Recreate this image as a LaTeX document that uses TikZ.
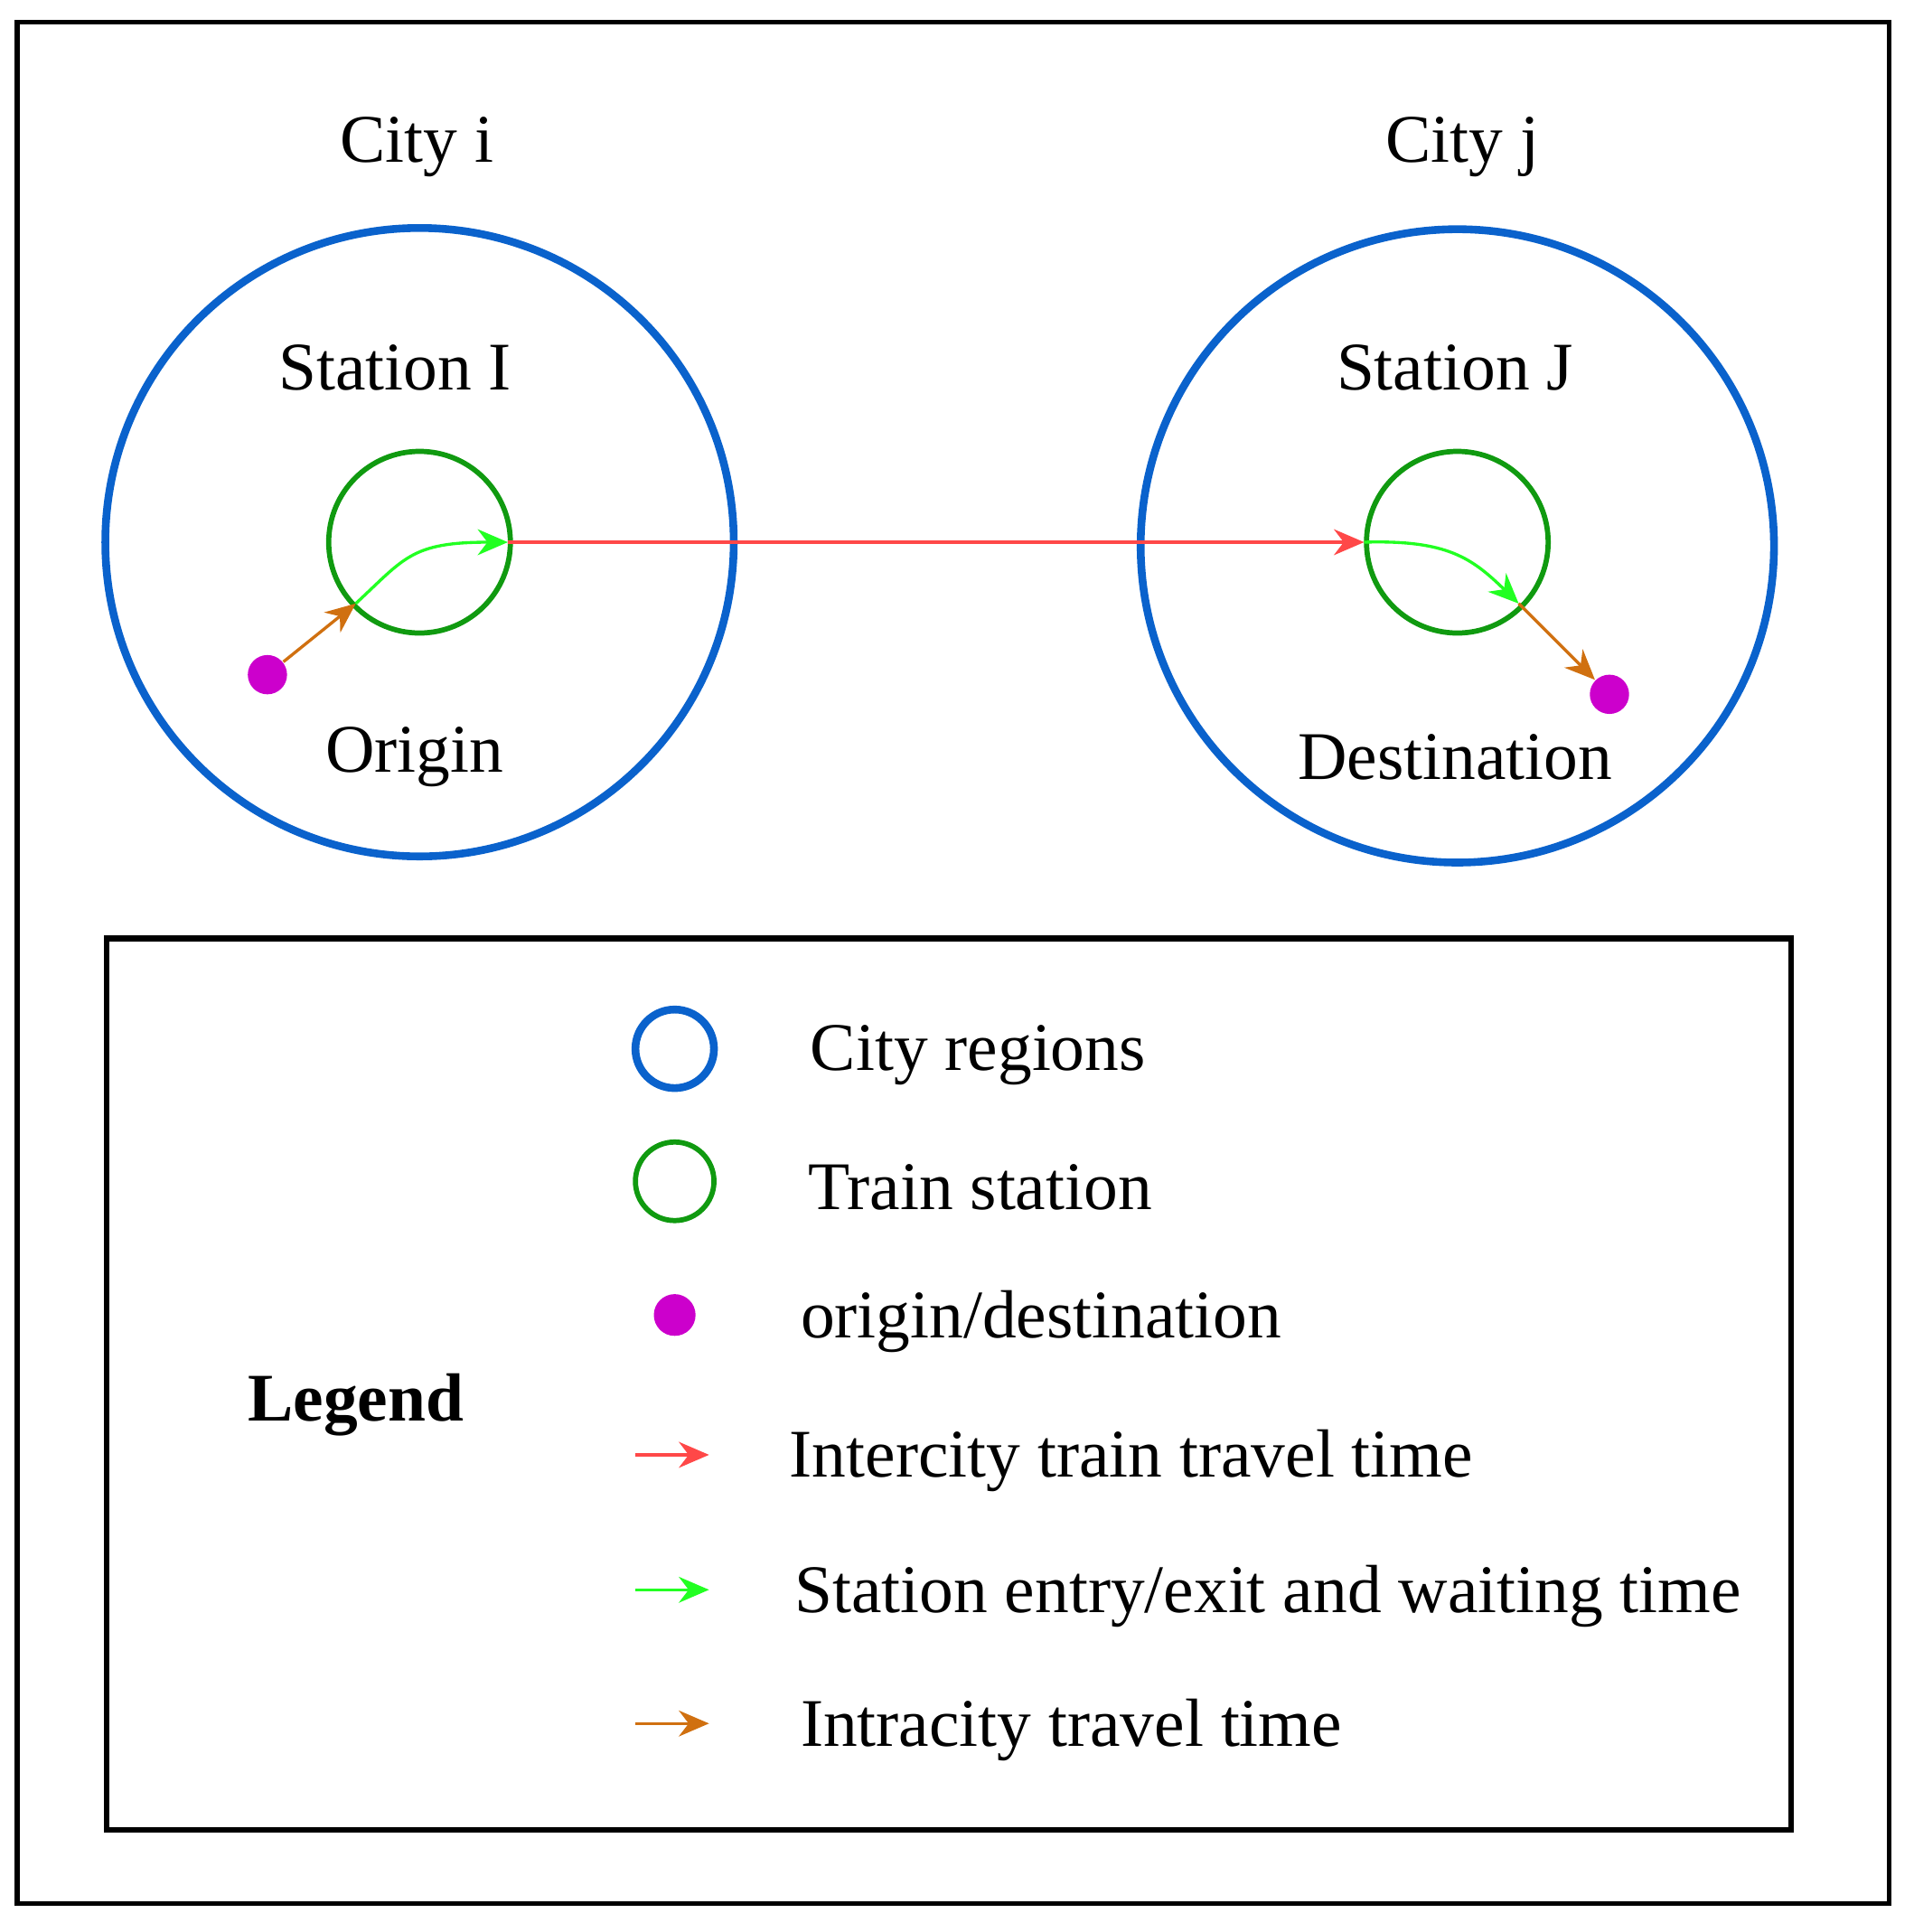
\documentclass[tikz,border=0pt]{standalone}
\usepackage{fontspec}
\setmainfont{Liberation Serif}
\usetikzlibrary{arrows.meta}
\definecolor{cblue}{HTML}{0A62CC}
\definecolor{cgreen}{HTML}{109A10}
\definecolor{lgreen}{HTML}{22FF22}
\definecolor{cred}{HTML}{FF4848}
\definecolor{corange}{HTML}{D07010}
\definecolor{cpurple}{HTML}{CC00CC}
\begin{document}
\begin{tikzpicture}[x=0.01cm,y=-0.01cm,
  lbl/.style={font=\fontsize{15.8}{19}\selectfont,inner sep=0pt},
  city/.style={draw=cblue,line width=1.8pt,circle,inner sep=0pt},
  stat/.style={draw=cgreen,line width=1.2pt,circle,inner sep=0pt},
  dot/.style={fill=cpurple,circle,inner sep=0pt,minimum size=0.32cm},
  arr/.style={line width=0.7pt,-{Stealth[length=7pt,width=6pt]}}]
\useasboundingbox (0,0) rectangle (1560,1575);
\draw[line width=1.1pt] (14,18) rectangle (1540,1552);
\node[city,minimum size=5.12cm] (ci) at (342,442) {};
\node[city,minimum size=5.16cm] (cj) at (1188,445) {};
\node[stat,minimum size=1.48cm] (si) at (342,442) {};
\node[stat,minimum size=1.48cm] (sj) at (1188,442) {};
\node[lbl] at (340,120) {City i};
\node[lbl] at (1192,120) {City j};
\node[lbl] at (322,300) {Station I};
\node[lbl] at (1186,300) {Station J};
\node[lbl] at (338,617) {Origin};
\node[lbl] at (1186,617) {Destination};
\node[dot] (o) at (218,550) {};
\node[dot] (d) at (1312,566) {};
\coordinate (a1) at (290,492);
\coordinate (a2) at (414,442);
\coordinate (b1) at (1112,442);
\coordinate (b2) at (1238,492);
\draw[arr,corange] (o) -- (a1);
\draw[arr,lgreen] (a1) .. controls (330,455) and (335,442) .. (a2);
\draw[arr,cred] (a2) -- (b1);
\draw[arr,lgreen] (b1) .. controls (1180,440) and (1200,455) .. (b2);
\draw[arr,corange] (b2) -- (d);
% legend
\draw[line width=1.3pt] (87,765) rectangle (1460,1492);
\node[lbl,font=\fontsize{15.8}{19}\selectfont\bfseries] at (290,1145) {Legend};
\node[city,minimum size=0.64cm] (l1) at (550,855) {};
\node[stat,minimum size=0.64cm] (l2) at (550,963) {};
\node[dot,minimum size=0.34cm] (l3) at (550,1072) {};
\coordinate (r1) at (518,1186); \coordinate (r2) at (578,1186);
\coordinate (g1) at (518,1296); \coordinate (g2) at (578,1296);
\coordinate (o1) at (518,1405); \coordinate (o2) at (578,1405);
\draw[arr,cred] (r1) -- (r2);
\draw[arr,lgreen] (g1) -- (g2);
\draw[arr,corange] (o1) -- (o2);
\node[lbl,anchor=west] at (660,860) {City regions};
\node[lbl,anchor=west] at (658,968) {Train station};
\node[lbl,anchor=west] at (652,1077) {origin/destination};
\node[lbl,anchor=west] at (643,1191) {Intercity train travel time};
\node[lbl,anchor=west] at (647,1301) {Station entry/exit and waiting time};
\node[lbl,anchor=west] at (652,1410) {Intracity travel time};
\end{tikzpicture}
\end{document}
